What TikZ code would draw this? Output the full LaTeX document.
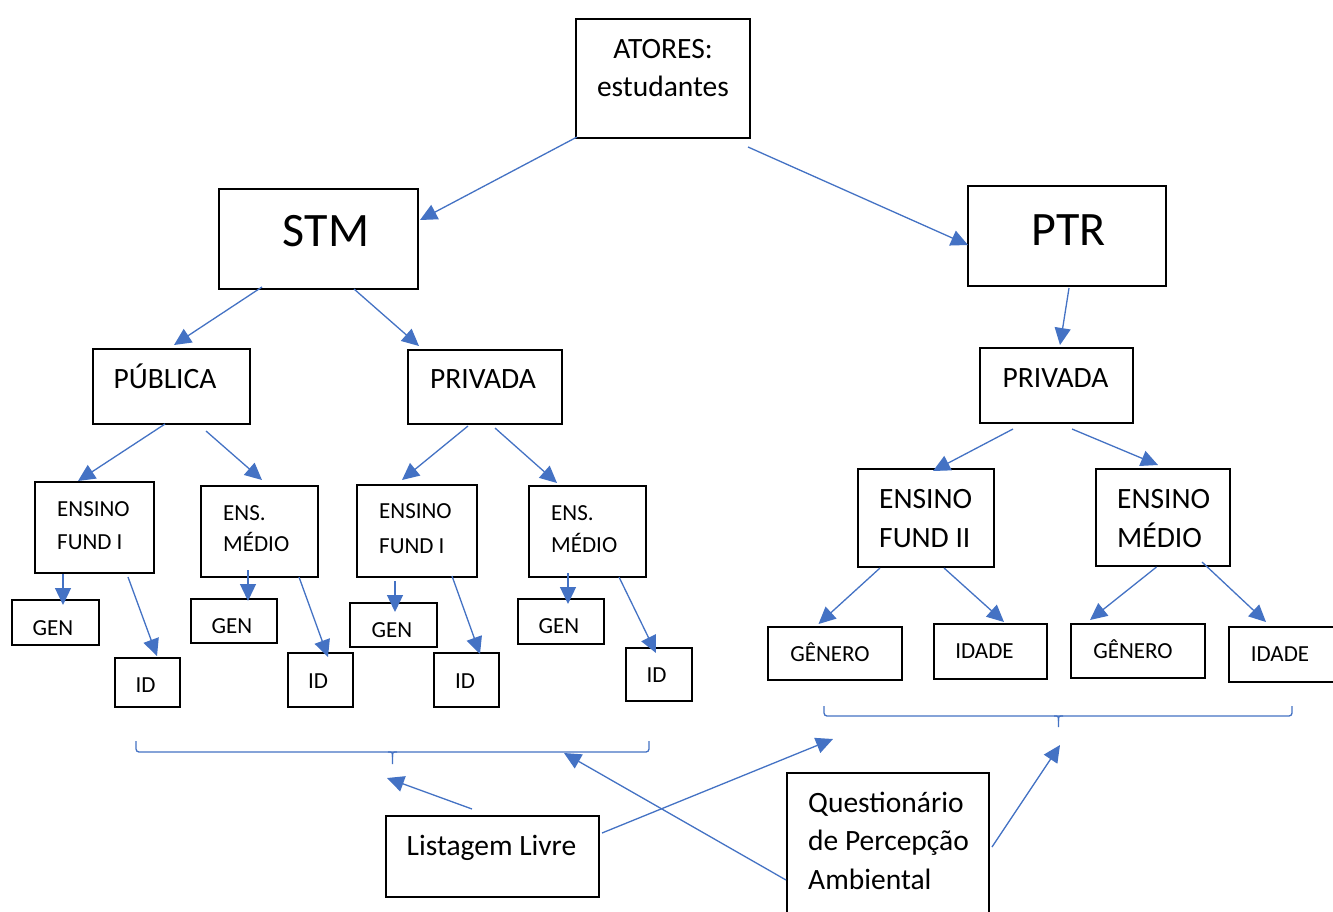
\documentclass[tikz,border=0pt]{standalone}
\usepackage{fontspec}
\setmainfont{Carlito}
\usetikzlibrary{arrows.meta,fit}
\definecolor{arrblue}{HTML}{4472C4}
\newcommand{\ltab}[1]{\begin{tabular}[t]{@{}l@{}}#1\end{tabular}}
\newcommand{\ctab}[1]{\begin{tabular}[t]{@{}c@{}}#1\end{tabular}}
\begin{document}
\begin{tikzpicture}[x=1pt,y=-1pt,
  box/.style={draw=black, line width=1.8pt, inner sep=0pt, outer sep=0pt},
  arr/.style={draw=arrblue, line width=1.3pt, -{Triangle[length=17pt,width=16pt]}},
  brc/.style={draw=arrblue, line width=1.3pt},
  huge/.style={font=\fontsize{48}{58}\selectfont, inner sep=0pt, anchor=base},
  big/.style={font=\fontsize{29.5}{38}\selectfont, inner sep=0pt, anchor=base},
  bigl/.style={font=\fontsize{29.5}{39}\selectfont, inner sep=0pt, anchor=base west},
  small/.style={font=\fontsize{23}{33}\selectfont, inner sep=0pt, anchor=base},
  smalll/.style={font=\fontsize{23}{#1}\selectfont, inner sep=0pt, anchor=base west}
]
\useasboundingbox (0,0) rectangle (1333,911);
\fill[white] (0,0) rectangle (1333,911);

% boxes
\node[box, fit={(576,19) (750,138)}] (atores) {};
\node[box, fit={(219,189) (418,289)}] (stm) {};
\node[box, fit={(968,186) (1166,286)}] (ptr) {};
\node[box, fit={(93,349) (250,424)}] (pub) {};
\node[box, fit={(408,350) (562,424)}] (privA) {};
\node[box, fit={(980,348) (1133,423)}] (privB) {};
\node[box, fit={(35,482) (154,573)}] (efA) {};
\node[box, fit={(201,486) (318,577)}] (emA) {};
\node[box, fit={(357,485) (477,577)}] (efB) {};
\node[box, fit={(529,486) (646,577)}] (emB) {};
\node[box, fit={(12,600) (99,645)}] (genA) {};
\node[box, fit={(115,658) (180,707)}] (idA) {};
\node[box, fit={(191,599) (277,643)}] (genB) {};
\node[box, fit={(288,653) (353,707)}] (idB) {};
\node[box, fit={(350,603) (437,647)}] (genC) {};
\node[box, fit={(434,653) (499,707)}] (idC) {};
\node[box, fit={(518,599) (604,644)}] (genD) {};
\node[box, fit={(626,648) (692,701)}] (idD) {};
\node[box, fit={(858,469) (994,567)}] (efC) {};
\node[box, fit={(1096,469) (1230,566)}] (emC) {};
\node[box, fit={(768,627) (902,680)}] (genE) {};
\node[box, fit={(934,624) (1047,679)}] (idE) {};
\node[box, fit={(1071,624) (1205,678)}] (genF) {};
\node[box, fit={(1229,627) (1345,682)}] (idF) {};
\node[box, fit={(386,816) (599,897)}] (list) {};
\node[box, fit={(787,773) (989,930)}] (quest) {};

% texts
\node[big] (atoresT) at (663,58) {\ctab{ATORES:\\estudantes}};
\node[huge] (stmT) at (326,246) {STM};
\node[huge] (ptrT) at (1069,245) {PTR};
\node[big] (pubT) at (165,388) {PÚBLICA};
\node[big] (privAT) at (483,388) {PRIVADA};
\node[big] (privBT) at (1055.5,387) {PRIVADA};
\node[smalll=33] (efAT) at (57,516) {\ltab{ENSINO\\FUND I}};
\node[smalll=31] (emAT) at (223,520) {\ltab{ENS.\\MÉDIO}};
\node[smalll=35] (efBT) at (379,518) {\ltab{ENSINO\\FUND I}};
\node[smalll=32] (emBT) at (551,520) {\ltab{ENS.\\MÉDIO}};
\node[small] (genAT) at (53,635) {GEN};
\node[small] (idAT) at (145.5,692) {ID};
\node[small] (genBT) at (232,633) {GEN};
\node[small] (idBT) at (318,688) {ID};
\node[small] (genCT) at (392,637) {GEN};
\node[small] (idCT) at (465,688) {ID};
\node[small] (genDT) at (559,633) {GEN};
\node[small] (idDT) at (656.5,682) {ID};
\node[bigl] (efCT) at (879,508) {\ltab{ENSINO\\FUND II}};
\node[bigl] (emCT) at (1117,508) {\ltab{ENSINO\\MÉDIO}};
\node[small] (genET) at (830,661) {GÊNERO};
\node[small] (idET) at (984.5,658) {IDADE};
\node[small] (genFT) at (1133,658) {GÊNERO};
\node[small] (idFT) at (1280,661) {IDADE};
\node[big] (listT) at (491.5,855) {Listagem Livre};
\node[font=\fontsize{29.5}{38.5}\selectfont, inner sep=0pt, anchor=base west] (questT) at (808,812) {\ltab{Questionário\\de Percepção\\Ambiental}};

% braces
\draw[brc, rounded corners=3pt] (136,741) -- (136,752) -- (649,752) -- (649,741);
\draw[brc] (388,752) .. controls (392.5,752) .. (392.5,757) -- (392.5,764);
\draw[brc] (397,752) .. controls (392.5,752) .. (392.5,757);
\draw[brc, rounded corners=3pt] (824,706) -- (824,716) -- (1292,716) -- (1292,706);
\draw[brc] (1054,716) .. controls (1058.5,716) .. (1058.5,721) -- (1058.5,727);
\draw[brc] (1063,716) .. controls (1058.5,716) .. (1058.5,721);
\coordinate (bLa) at (387,778);
\coordinate (bLb) at (564,753);
\coordinate (bRa) at (833,739);
\coordinate (bRb) at (1060,745);

% connectors
\draw[arr] ([shift={(1,-1)}]atores.south west) -- ([shift={(2,31)}]stm.north east);
\draw[arr] ([shift={(-2,9)}]atores.south east) -- ([shift={(0,9)}]ptr.west);
\draw[arr] ([shift={(-56.5,-2)}]stm.south) -- ([shift={(2.5,-4)}]pub.north);
\draw[arr] ([shift={(35.5,0)}]stm.south) -- ([shift={(11,-4)}]privA.north west);
\draw[arr] ([shift={(2,2)}]ptr.south) -- ([shift={(3.5,-3)}]privB.north);
\draw[arr] ([shift={(-6.5,0)}]pub.south) -- ([shift={(-16.5,-1)}]efA.north);
\draw[arr] ([shift={(34.5,7)}]pub.south) -- ([shift={(2.5,-6)}]emA.north);
\draw[arr] ([shift={(-17,2)}]privA.south) -- ([shift={(-15,-5)}]efB.north);
\draw[arr] ([shift={(10,4)}]privA.south) -- ([shift={(-30.5,-3)}]emB.north);
\draw[arr] ([shift={(-43.5,6)}]privB.south) -- ([shift={(7,2)}]efC.north);
\draw[arr] ([shift={(15.5,6)}]privB.south) -- ([shift={(-5,-4)}]emC.north);
\draw[arr] ([shift={(-31.5,1)}]efA.south) -- ([shift={(7.5,5)}]genA.north);
\draw[arr] ([shift={(33.5,4)}]efA.south) -- ([shift={(9.5,-2)}]idA.north);
\draw[arr] ([shift={(-11.5,-7)}]emA.south) -- ([shift={(14,2)}]genB.north);
\draw[arr] ([shift={(39.5,0)}]emA.south) -- ([shift={(7.5,4)}]idB.north);
\draw[arr] ([shift={(-22,4)}]efB.south) -- ([shift={(1.5,9)}]genC.north);
\draw[arr] ([shift={(35,-1)}]efB.south) -- ([shift={(13.5,1)}]idC.north);
\draw[arr] ([shift={(-19.5,-4)}]emB.south) -- ([shift={(7,5)}]genD.north);
\draw[arr] ([shift={(31.5,0)}]emB.south) -- ([shift={(-3,5)}]idD.north);
\draw[arr] ([shift={(-46,1)}]efC.south) -- ([shift={(-16.5,-3)}]genE.north);
\draw[arr] ([shift={(18,1)}]efC.south) -- ([shift={(13.5,-2)}]idE.north);
\draw[arr] ([shift={(-6.5,1)}]emC.south) -- ([shift={(-48,-4)}]genF.north);
\draw[arr] ([shift={(39,-4)}]emC.south) -- ([shift={(37,-5)}]idF.north west);
\draw[arr] ([shift={(-20.5,-7)}]list.north) -- (bLa);
\draw[arr] ([shift={(3,-23.5)}]list.east) -- (bRa);
\draw[arr] ([shift={(-1,28.5)}]quest.west) -- (bLb);
\draw[arr] ([shift={(3,-4.5)}]quest.east) -- (bRb);
\end{tikzpicture}
\end{document}
